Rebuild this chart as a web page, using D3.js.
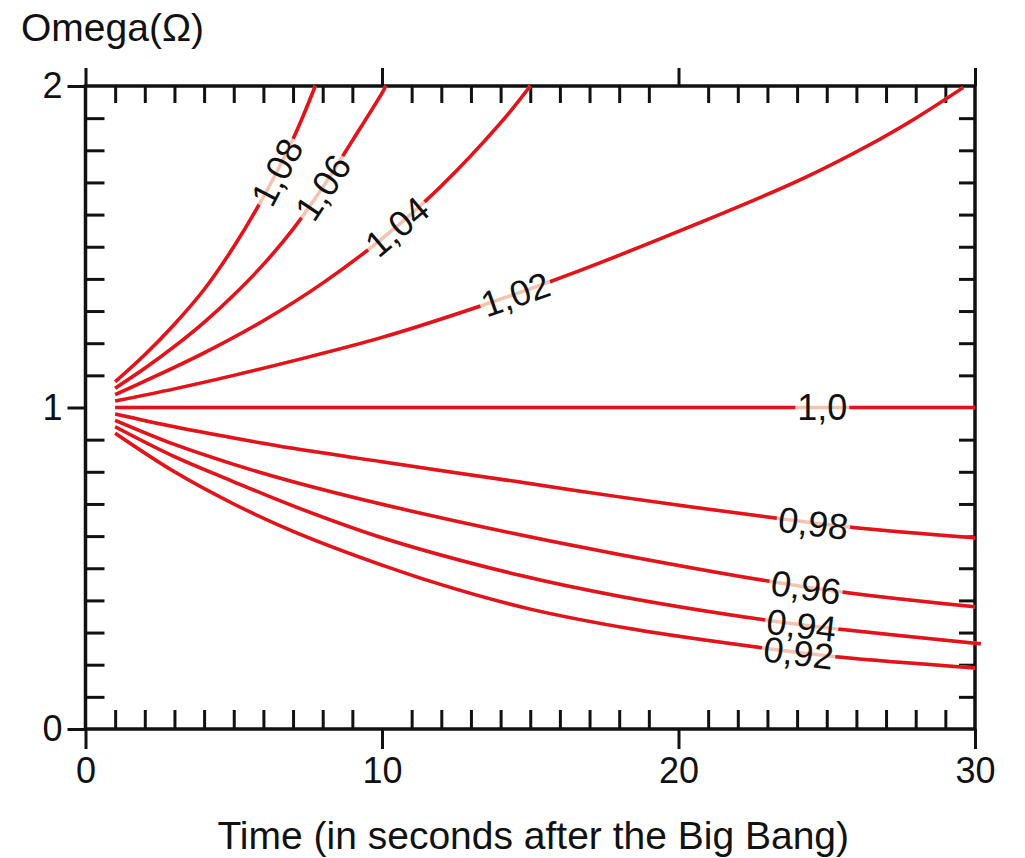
<!DOCTYPE html>
<html><head><meta charset="utf-8">
<script src="https://cdn.jsdelivr.net/npm/d3@7"></script>
<style>
html,body{margin:0;padding:0;background:#fff;}
text{font-family:"Liberation Sans",Arial,Helvetica,sans-serif;fill:#111;}
</style></head>
<body><svg id="c" width="1025" height="858"></svg>
<script>
// ---- data ----
const xTicks = [0, 10, 20, 30];
const xTickLabels = ["0", "10", "20", "30"];
const yTicks = [0, 1, 2];
const yTickLabels = ["0", "1", "2"];
const xTitle = "Time (in seconds after the Big Bang)";
const yTitle = "Omega(Ω)";

const curveNames = ["1,08", "1,06", "1,04", "1,02", "1,0", "0,98", "0,96", "0,94", "0,92"];
const t108 = [1, 2, 3, 4, 5, 6, 7, 7.75];
const o108 = [1.08, 1.164, 1.259, 1.367, 1.50, 1.655, 1.835, 2.0];
const t106 = [1, 2, 3, 4, 5, 6, 7, 8, 9, 10, 10.13];
const o106 = [1.06, 1.122, 1.19, 1.265, 1.35, 1.445, 1.555, 1.685, 1.83, 1.978, 2.0];
const t104 = [1, 2, 4, 6, 8, 10, 12, 14, 15.0];
const o104 = [1.04, 1.082, 1.17, 1.27, 1.387, 1.525, 1.689, 1.885, 2.0];
const t102 = [1, 3, 5, 7, 10, 13.3, 16.1, 20.7, 24.1, 26.4, 28, 29.6];
const o102 = [1.02, 1.058, 1.10, 1.145, 1.218, 1.315, 1.406, 1.574, 1.708, 1.815, 1.90, 1.995];
const t100 = [1, 30];
const o100 = [1.0, 1.0];
const t098 = [1, 3, 5, 7, 10, 14.65, 18, 23.2, 25.9, 30];
const o098 = [0.98, 0.94, 0.905, 0.873, 0.831, 0.768, 0.722, 0.657, 0.627, 0.595];
const t096 = [1, 3, 5, 7, 10, 14.65, 18, 23.1, 25.7, 30];
const o096 = [0.96, 0.885, 0.823, 0.769, 0.699, 0.604, 0.543, 0.459, 0.424, 0.38];
const t094 = [1, 3, 5, 7, 10, 14.65, 18, 23, 25.45, 30, 30.2];
const o094 = [0.94, 0.847, 0.769, 0.694, 0.595, 0.478, 0.413, 0.338, 0.31, 0.267, 0.265];
const t092 = [1, 3, 5, 7, 10, 12.5, 15, 18.5, 22.85, 25.4, 30];
const o092 = [0.92, 0.80, 0.70, 0.615, 0.51, 0.435, 0.373, 0.31, 0.252, 0.224, 0.19];
const labelAtT = [6.45, 8.0, 10.5, 14.5, 24.85, 24.55, 24.3, 24.15, 24.05];

const seriesT = [t108, t106, t104, t102, t100, t098, t096, t094, t092];
const seriesO = [o108, o106, o104, o102, o100, o098, o096, o094, o092];

// ---- layout ----
const svg = d3.select("#c");
const L = 85.5, R = 975, T = 86, B = 729;
const x = d3.scaleLinear().domain([0, 30]).range([L, R]);
const y = d3.scaleLinear().domain([0, 2]).range([B, T]);
const FS = 36, FT = 39;
const RED = "#e3121b", PALE = "#f7c3b1";

const xMinor = d3.range(1, 30).filter(v => v % 10 !== 0);
const yMinor = d3.range(1, 20).map(v => v / 10).filter(v => Math.abs(v - 1) > 1e-9);

function styleAxis(g) {
  g.select(".domain").remove();
  g.selectAll("line").attr("stroke", "#111").attr("stroke-width", 3);
  g.selectAll("text").style("font-size", FS + "px").attr("fill", "#111");
}
svg.append("g").attr("transform", `translate(0,${B})`)
  .call(d3.axisBottom(x).tickValues(xTicks).tickFormat((d, i) => xTickLabels[i]).tickSize(20).tickPadding(8))
  .call(styleAxis);
svg.append("g").attr("transform", `translate(0,${B})`)
  .call(d3.axisBottom(x).tickValues(xMinor).tickFormat("").tickSize(-19))
  .call(styleAxis);
svg.append("g").attr("transform", `translate(0,${T})`)
  .call(d3.axisTop(x).tickValues(xTicks).tickFormat("").tickSize(18))
  .call(styleAxis);
svg.append("g").attr("transform", `translate(0,${T})`)
  .call(d3.axisTop(x).tickValues(xMinor).tickFormat("").tickSize(-17))
  .call(styleAxis);
svg.append("g").attr("transform", `translate(${L},0)`)
  .call(d3.axisLeft(y).tickValues(yTicks).tickFormat((d, i) => yTickLabels[i]).tickSize(18).tickPadding(5))
  .call(styleAxis);
svg.append("g").attr("transform", `translate(${L},0)`)
  .call(d3.axisLeft(y).tickValues(yMinor).tickFormat("").tickSize(-19))
  .call(styleAxis);
svg.append("g").attr("transform", `translate(${R},0)`)
  .call(d3.axisRight(y).tickValues(yMinor).tickFormat("").tickSize(-16))
  .call(styleAxis);

svg.append("rect").attr("x", L).attr("y", T).attr("width", R - L).attr("height", B - T)
  .attr("fill", "none").attr("stroke", "#111").attr("stroke-width", 3.5);

svg.append("text").attr("x", 21).attr("y", 41).style("font-size", FT + "px").text(yTitle);
svg.append("text").attr("x", (L + R) / 2 + 3).attr("y", 849).attr("text-anchor", "middle")
  .style("font-size", FT + "px").text(xTitle);

const line = d3.line().x(d => x(d[0])).y(d => y(d[1])).curve(d3.curveCatmullRom.alpha(0.5));
const gCurves = svg.append("g");
seriesT.forEach((ts, i) => {
  const pts = ts.map((t, j) => [t, seriesO[i][j]]);
  const dStr = line(pts);
  gCurves.append("path").attr("d", dStr).attr("fill", "none").attr("stroke", PALE).attr("stroke-width", 3.5);
  const p = gCurves.append("path").attr("d", dStr).attr("fill", "none").attr("stroke", RED).attr("stroke-width", 3.5);
  const node = p.node();
  const total = node.getTotalLength();
  const cx = x(labelAtT[i]);
  let lo = 0, hi = total;
  for (let k = 0; k < 40; k++) {
    const mid = (lo + hi) / 2;
    if (node.getPointAtLength(mid).x < cx) lo = mid; else hi = mid;
  }
  const Lc = (lo + hi) / 2;
  const pc = node.getPointAtLength(Lc);
  const pa = node.getPointAtLength(Math.max(0, Lc - 2));
  const pb = node.getPointAtLength(Math.min(total, Lc + 2));
  const ang = Math.atan2(pb.y - pa.y, pb.x - pa.x) * 180 / Math.PI;
  const tx = svg.append("text").attr("text-anchor", "middle").attr("dy", "0.36em")
    .attr("transform", `translate(${pc.x},${pc.y}) rotate(${ang})`)
    .style("font-size", FS + "px").text(curveNames[i]);
  const w = tx.node().getComputedTextLength();
  const g = w / 2 + 2;
  p.attr("stroke-dasharray", `${Math.max(0, Lc - g)} ${2 * g} ${total}`);
});
</script></body></html>
